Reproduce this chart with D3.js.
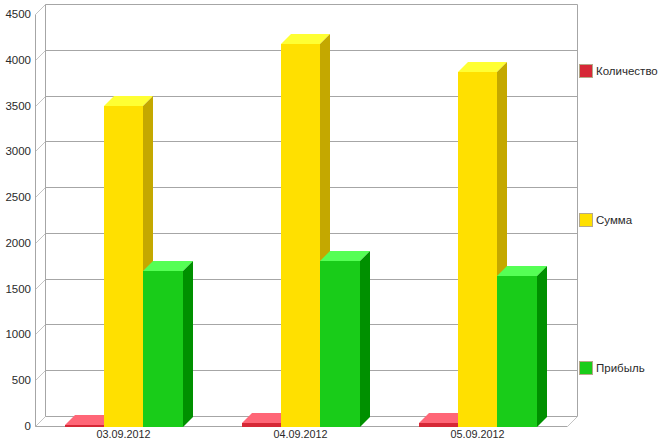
<!DOCTYPE html>
<html><head><meta charset="utf-8">
<script src="https://cdn.jsdelivr.net/npm/d3@7/dist/d3.min.js"></script>
<style>html,body{margin:0;padding:0;background:#fff}svg{display:block}text{font-family:"Liberation Sans",Arial,sans-serif;font-size:11.5px;fill:#2a2a2a}</style>
</head><body><svg id="c" width="663" height="443"></svg>
<script>
const categories = ["03.09.2012","04.09.2012","05.09.2012"];
const seriesNames = ["Количество","Сумма","Прибыль"];
const quantity = [8,30,30];
const sum = [3500,4175,3870];
const profit = [1695,1800,1640];
const yTicks = [0,500,1000,1500,2000,2500,3000,3500,4000,4500];
const palette = [
 {front:"#d62836",top:"#ff6677",side:"#a01c28"},
 {front:"#ffe000",top:"#ffff33",side:"#c4a800"},
 {front:"#19cc19",top:"#55ff55",side:"#009000"}];
const legendY = [71,220,368];
const depth = 10, grid = "#a6a6a6";
const svg = d3.select("#c");
const x = d3.scaleBand().domain(categories).range([35,566]);
const xs = d3.scaleBand().domain(d3.range(3)).range([0,x.bandwidth()]).paddingOuter(0.75).paddingInner(0);
const y = d3.scaleLinear().domain([0,4500]).range([426,14]);
const seg=(a,b,c,d,col)=>svg.append("line").attr("x1",a+.5).attr("y1",b+.5).attr("x2",c+.5).attr("y2",d+.5).attr("stroke",col||grid).attr("stroke-width",1);
// walls
yTicks.forEach(t=>{
  const p=Math.round(y(t));
  seg(35,p,35+depth,p-depth,"#c4c4c4");
  seg(35+depth,p-depth,567+depth,p-depth);
  svg.append("text").attr("x",31).attr("y",p+4).attr("text-anchor","end").text(t);
});
seg(35,14,35,426);
seg(45,4,45,416);
seg(577,4,577,416);
seg(35,426,567,426);
seg(567,426,577,416,"#c4c4c4");
// bars
const poly=(pts,col)=>svg.append("polygon").attr("points",pts.map(p=>p.join(",")).join(" ")).attr("fill",col);
[quantity,sum,profit].forEach((vals,s)=>{
  vals.forEach((v,i)=>{
    const x0=Math.round(x(categories[i])+xs(s)), x1=Math.round(x(categories[i])+xs(s)+xs.bandwidth());
    const yT=Math.round(y(v)), yB=y(0)+1, c=palette[s];
    poly([[x0,yT],[x0+depth,yT-depth],[x1+depth,yT-depth],[x1,yT]],c.top);
    poly([[x1,yT],[x1+depth,yT-depth],[x1+depth,yB-depth],[x1,yB]],c.side);
    svg.append("rect").attr("x",x0).attr("y",yT).attr("width",x1-x0).attr("height",yB-yT).attr("fill",c.front);
  });
});
// category labels
categories.forEach(c=>{
  svg.append("text").attr("x",x(c)+x.bandwidth()/2).attr("y",438).attr("text-anchor","middle").style("font-size","10.8px").text(c);
});
// legend
seriesNames.forEach((n,i)=>{
  svg.append("rect").attr("x",579.5).attr("y",legendY[i]-6.5).attr("width",13).attr("height",13).attr("fill",palette[i].front).attr("stroke","#b5a98a");
  svg.append("text").attr("x",596).attr("y",legendY[i]+4).text(n);
});
</script></body></html>
